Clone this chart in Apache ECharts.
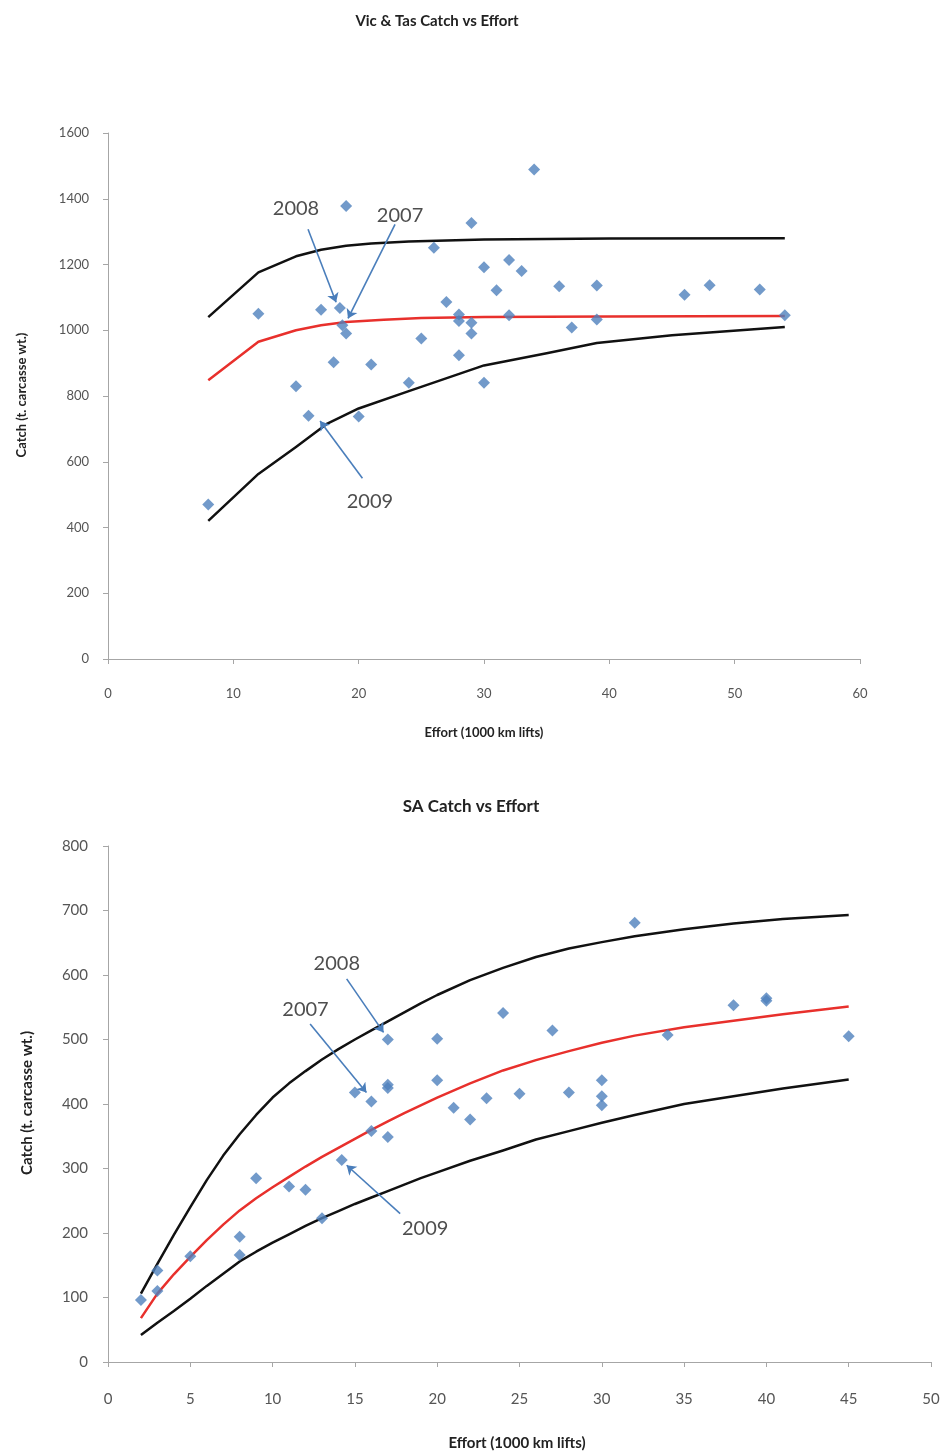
<!DOCTYPE html>
<html><head><meta charset="utf-8">
<script src="https://cdn.jsdelivr.net/npm/echarts@6/dist/echarts.min.js"></script>
<style>html,body{margin:0;padding:0;background:#fff}#c{width:943px;height:1455px}</style>
</head><body><div id="c"></div>
<script>
// ---- Vic & Tas data ----
const vicEffort = [8,12,15,16,17,18,18.5,18.7,19,19,20,21,24,25,26,27,28,28,28,29,29,29,30,30,31,32,32,33,34,36,37,39,39,46,48,52,54];
const vicCatch  = [470,1050,830,740,1062,903,1068,1015,990,1378,738,896,840,975,1251,1086,1048,1028,924,1326,1023,990,1192,840,1122,1214,1046,1180,1489,1134,1008,1136,1033,1108,1137,1124,1046];
const vicUpperX = [8,12,15,17,19,21,24,30,40,54];
const vicUpperY = [1040,1176,1225,1245,1257,1264,1270,1276,1279,1280];
const vicMidX   = [8,12,15,17,19,22,25,30,40,54];
const vicMidY   = [848,965,1000,1015,1025,1032,1037,1040,1042,1043];
const vicLowerX = [8,12,15,17.5,20,24,30,35,39,45,54];
const vicLowerY = [420,563,645,716,762,815,893,930,961,985,1010];
const vicLabels = ['2008','2007','2009'];
const vicLabelPos = [[15,1371],[23.3,1350],[20.9,480]];
const vicArrowFrom = [[15.96,1307],[22.9,1322],[20.3,550]];
const vicArrowTo   = [[18.2,1085],[19.15,1036],[16.92,724]];

// ---- SA data ----
const saEffort = [2,3,3,5,8,8,9,11,12,13,14.2,15,16,16,17,17,17,17,20,20,21,22,23,24,25,27,28,30,30,30,32,34,38,40,40,45];
const saCatch  = [96,142,110,164,194,166,285,272,267,223,313,418,404,358,500,430,425,349,501,437,394,376,409,541,416,514,418,437,412,398,681,507,553,560,564,505];
const saCurveX = [2,3,4,5,6,7,8,9,10,11,12,13,14,15,16,17,18,19,20,22,24,26,28,30,32,35,38,41,45];
const saUpperY = [106,152,197,240,282,320,353,383,410,432,451,469,485,500,514,528,542,556,569,592,611,628,641,651,660,671,680,687,693];
const saMidY   = [68,106,136,163,189,213,235,254,271,287,303,318,332,346,360,373,386,398,410,432,452,468,482,495,506,519,529,539,551];
const saLowerY = [42,61,79,98,118,137,156,171,185,198,211,223,234,245,255,265,275,285,294,312,328,345,358,371,383,400,412,424,438];
const saLabels = ['2008','2007','2009'];
const saLabelPos = [[13.9,618],[12,546],[19.27,207]];
const saArrowFrom = [[14.5,594],[12.28,524],[17.75,230]];
const saArrowTo   = [[16.74,511],[15.7,418],[14.5,305]];

const FONT = 'Lato, "Open Sans", sans-serif';
const zip = (a,b) => a.map((v,i)=>[v,b[i]]);

function axisCommon(fs, margin){
  return {
    axisLine:{show:true,lineStyle:{color:'#a6a6a6',width:1}},
    axisTick:{show:true,inside:false,length:5,lineStyle:{color:'#a6a6a6'}},
    splitLine:{show:false},
    axisLabel:{color:'#555',fontFamily:FONT,fontSize:fs,margin:margin,formatter:v=>String(v)}
  };
}
function lineSeries(x,y,color,gi,smooth){
  return {type:'line',xAxisIndex:gi,yAxisIndex:gi,data:zip(x,y),showSymbol:false,symbol:'none',
    smooth:smooth,lineStyle:{color:color,width:2.5,join:'round'},z:2,silent:true};
}
function scatterSeries(x,y,gi){
  return {type:'scatter',xAxisIndex:gi,yAxisIndex:gi,data:zip(x,y),symbol:'diamond',symbolSize:12,
    itemStyle:{color:'#4f81bd'},z:4,silent:true};
}
function arrowSeries(from,to,gi){
  return {type:'lines',coordinateSystem:'cartesian2d',xAxisIndex:gi,yAxisIndex:gi,
    data:from.map((f,i)=>({coords:[f,to[i]]})),symbol:['none','arrow'],symbolSize:9,
    lineStyle:{color:'#4a7ebb',width:1.6,opacity:1},z:5,silent:true};
}
function labelSeries(labels,pos,gi,fs){
  return {type:'scatter',xAxisIndex:gi,yAxisIndex:gi,data:pos.map((p,i)=>[p[0],p[1],labels[i]]),
    symbolSize:1,itemStyle:{color:'rgba(0,0,0,0)'},z:6,silent:true,
    label:{show:true,position:'inside',formatter:p=>p.data[2],color:'#222',fontFamily:FONT,fontSize:fs}};
}

const chart = echarts.init(document.getElementById('c'),null,{renderer:'canvas'});
chart.setOption({
  animation:false,
  backgroundColor:'#fff',
  grid:[
    {left:108,top:133,width:752,height:526},
    {left:108,top:846,width:823,height:516}
  ],
  xAxis:[
    Object.assign({type:'value',gridIndex:0,min:0,max:60,interval:10},axisCommon(13,28)),
    Object.assign({type:'value',gridIndex:1,min:0,max:50,interval:5},axisCommon(15,30))
  ],
  yAxis:[
    Object.assign({type:'value',gridIndex:0,min:0,max:1600,interval:200},axisCommon(13,19)),
    Object.assign({type:'value',gridIndex:1,min:0,max:800,interval:100},axisCommon(15,20))
  ],
  graphic:[
    {type:'text',x:437,y:21,style:{text:'Vic & Tas Catch vs Effort',font:'bold 15px '+FONT,fill:'#222',textAlign:'center',textVerticalAlign:'middle'}},
    {type:'text',x:22,y:395,rotation:Math.PI/2,style:{text:'Catch (t. carcasse wt.)',font:'bold 13px '+FONT,fill:'#222',textAlign:'center',textVerticalAlign:'middle'}},
    {type:'text',x:484,y:733,style:{text:'Effort (1000 km lifts)',font:'bold 13px '+FONT,fill:'#222',textAlign:'center',textVerticalAlign:'middle'}},
    {type:'text',x:471,y:807,style:{text:'SA Catch vs Effort',font:'bold 17px '+FONT,fill:'#222',textAlign:'center',textVerticalAlign:'middle'}},
    {type:'text',x:27,y:1103,rotation:Math.PI/2,style:{text:'Catch (t. carcasse wt.)',font:'bold 15px '+FONT,fill:'#222',textAlign:'center',textVerticalAlign:'middle'}},
    {type:'text',x:517,y:1443,style:{text:'Effort (1000 km lifts)',font:'bold 15px '+FONT,fill:'#222',textAlign:'center',textVerticalAlign:'middle'}}
  ],
  series:[
    lineSeries(vicUpperX,vicUpperY,'#111',0,false),
    lineSeries(vicMidX,vicMidY,'#e8302c',0,false),
    lineSeries(vicLowerX,vicLowerY,'#111',0,false),
    scatterSeries(vicEffort,vicCatch,0),
    arrowSeries(vicArrowFrom,vicArrowTo,0),
    labelSeries(vicLabels,vicLabelPos,0,20),
    lineSeries(saCurveX,saUpperY,'#111',1,false),
    lineSeries(saCurveX,saMidY,'#e8302c',1,false),
    lineSeries(saCurveX,saLowerY,'#111',1,false),
    scatterSeries(saEffort,saCatch,1),
    arrowSeries(saArrowFrom,saArrowTo,1),
    labelSeries(saLabels,saLabelPos,1,20)
  ]
});
</script></body></html>
